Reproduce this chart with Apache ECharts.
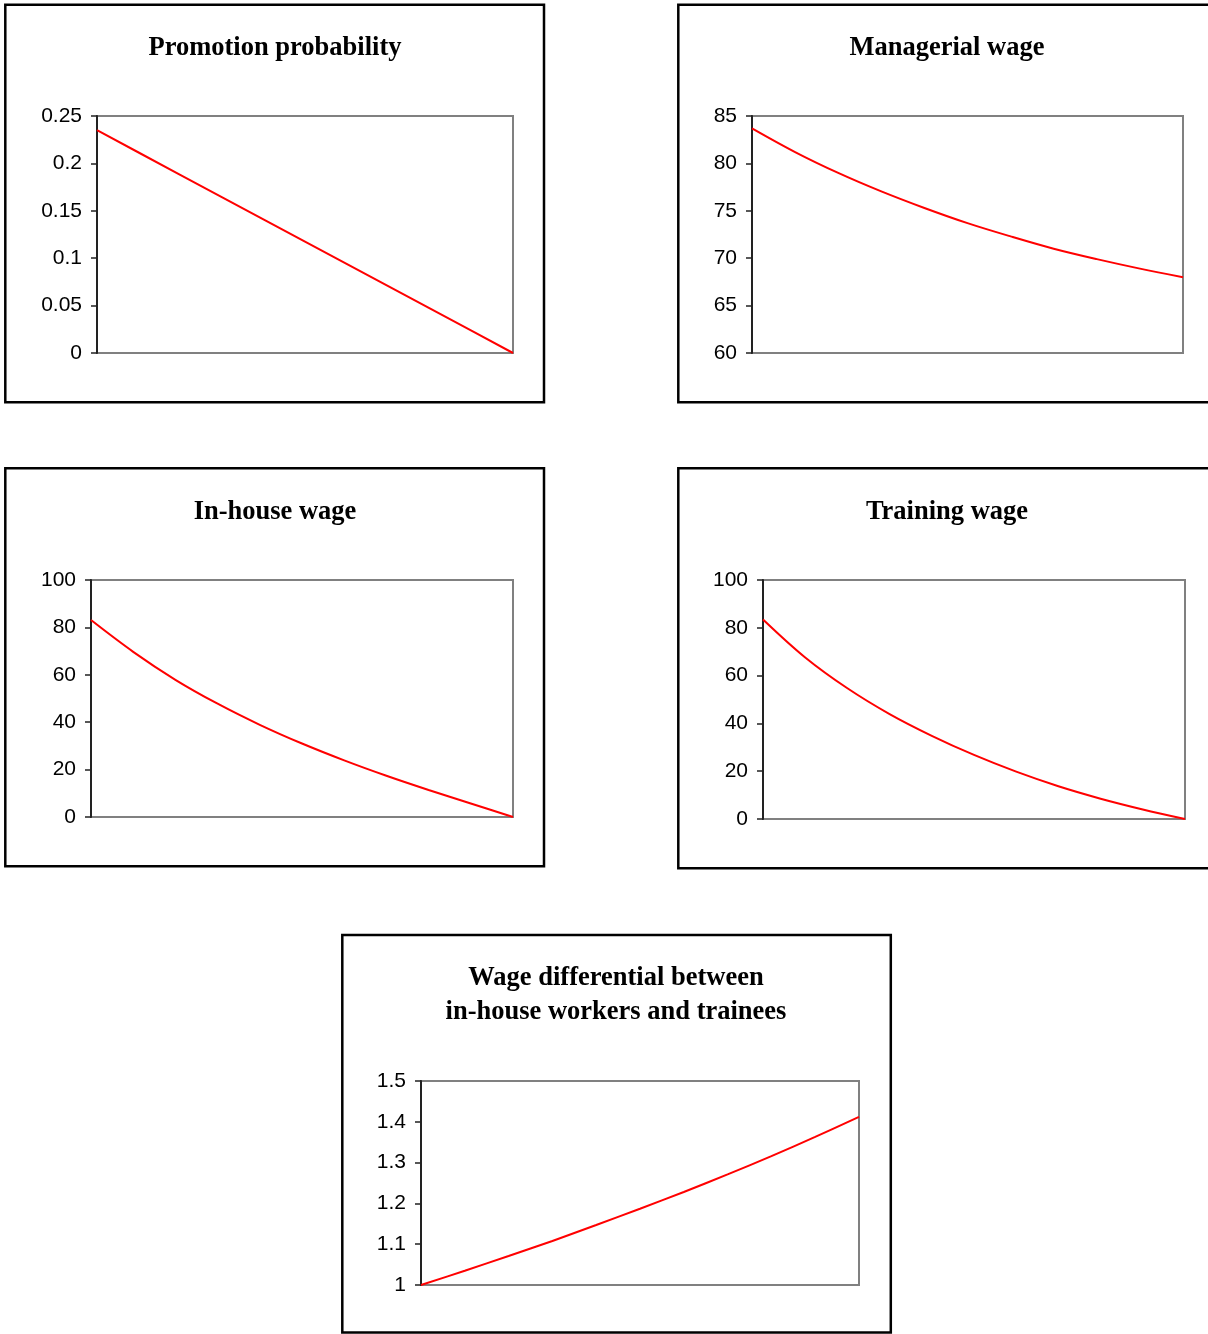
<!DOCTYPE html>
<html>
<head>
<meta charset="utf-8">
<script src="https://cdn.jsdelivr.net/npm/echarts@6/dist/echarts.min.js"></script>
<style>
html,body{margin:0;padding:0;background:#fff;}
#c{width:1208px;height:1334px;}
</style>
</head>
<body>
<div id="c"></div>
<script>
// x positions (relative steps along the horizontal axis, no labels shown)
var xSteps = [0,1,2,3,4,5,6,7,8,9,10];

// Panel titles
var titles = [
  "Promotion probability",
  "Managerial wage",
  "In-house wage",
  "Training wage",
  "Wage differential between\nin-house workers and trainees"
];

// Series values
var promotionProb = [0.235,0.2115,0.188,0.1645,0.141,0.1175,0.094,0.0705,0.047,0.0235,0];
var managerialWage = [83.7,81.2,79.0,77.05,75.3,73.7,72.3,71.0,69.9,68.9,68.0];
var inHouseWage = [83.1,69.7,57.9,47.8,38.9,31.0,23.9,17.4,11.4,5.7,0];
var trainingWage = [83.5,67.6,54.7,43.9,34.8,26.8,19.8,13.7,8.5,4.0,0];
var wageDifferential = [1.0,1.035,1.071,1.108,1.147,1.187,1.228,1.271,1.316,1.363,1.412];

// Y-axis scales
var yMin = [0, 60, 0, 0, 1];
var yMax = [0.25, 85, 100, 100, 1.5];
var yStep = [0.05, 5, 20, 20, 0.1];

var seriesData = [promotionProb, managerialWage, inHouseWage, trainingWage, wageDifferential];

// layout
var grids = [
  {left:97, top:116, width:416, height:237},
  {left:752, top:116, width:431, height:237},
  {left:91, top:580, width:422, height:237},
  {left:763, top:580, width:422, height:239},
  {left:421, top:1081, width:438, height:204}
];
var boxes = [
  {x:5.3, y:4.7, w:538.7, h:397.6},
  {x:678.3, y:4.7, w:540, h:397.6},
  {x:5.3, y:468.3, w:538.7, h:398},
  {x:678.3, y:468.3, w:540, h:400},
  {x:342.3, y:935, w:548.5, h:397.5}
];
var titlePos = [
  {x:275, y:31},
  {x:947, y:31},
  {x:275, y:495},
  {x:947, y:495},
  {x:616, y:961}
];

var chart = echarts.init(document.getElementById('c'), null, {renderer:'canvas'});
var option = {
  animation:false,
  backgroundColor:'#fff',
  title: titles.map(function(t,i){
    return {
      text:t, left:titlePos[i].x, top:titlePos[i].y, textAlign:'center', padding:0,
      textStyle:{fontFamily:'Liberation Serif', fontWeight:'bold', fontSize:26.5, color:'#000', lineHeight:34}
    };
  }),
  graphic: boxes.map(function(b){
    return {type:'rect', silent:true, z:-1,
      shape:{x:b.x, y:b.y, width:b.w, height:b.h},
      style:{fill:'none', stroke:'#000', lineWidth:2.5}};
  }),
  grid: grids.map(function(g){
    return {left:g.left, top:g.top, width:g.width, height:g.height, show:true,
      borderColor:'#808080', borderWidth:2, backgroundColor:'transparent', containLabel:false};
  }),
  xAxis: grids.map(function(g,i){
    return {type:'value', gridIndex:i, min:0, max:10, show:false};
  }),
  yAxis: grids.map(function(g,i){
    return {type:'value', gridIndex:i, min:yMin[i], max:yMax[i], interval:yStep[i],
      axisLine:{show:true, lineStyle:{color:'#222', width:2}},
      axisTick:{show:true, length:6, inside:false, lineStyle:{color:'#222', width:1.5}},
      splitLine:{show:false},
      axisLabel:{margin:15, color:'#000', fontFamily:'Liberation Sans', fontSize:21}
    };
  }),
  series: seriesData.map(function(d,i){
    return {type:'line', xAxisIndex:i, yAxisIndex:i, showSymbol:false,
      smooth: i === 0 ? false : 0.35,
      data: d.map(function(v,k){return [xSteps[k], v];}),
      lineStyle:{color:'#ff0000', width:2}, clip:false};
  })
};
chart.setOption(option);
</script>
</body>
</html>
